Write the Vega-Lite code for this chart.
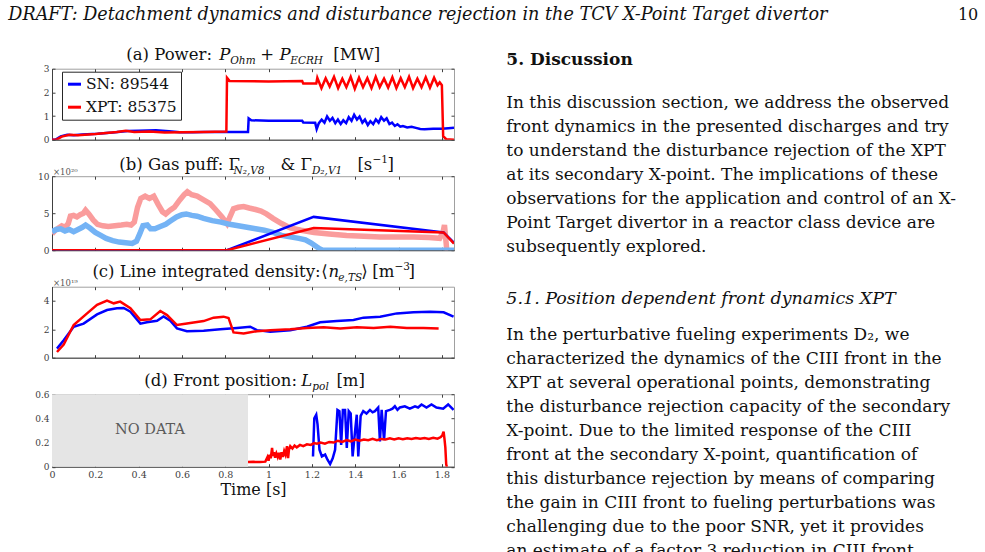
{
"$schema": "https://vega.github.io/schema/vega-lite/v6.json",
"background": "white",
"padding": {"left": 8, "top": 0, "right": 0, "bottom": 0},
"bounds": "flush",
"spacing": 48.7,
"config": {
  "font": "DejaVu Serif",
  "view": {"stroke": "#a0a0a0", "strokeWidth": 1},
  "axis": {"grid": false, "domainColor": "#404040", "tickColor": "#404040", "tickSize": -3, "labelFont": "DejaVu Serif", "labelFontSize": 9, "labelColor": "#404040", "labelPadding": 6, "labelFlush": false, "labelOverlap": false, "titleFont": "DejaVu Serif", "titleFontWeight": "normal", "titleFontSize": 16, "titleColor": "#111111", "titlePadding": 2},
  "text": {"font": "DejaVu Serif"}
},
"datasets": {
  "header": [
    {"pos": "left", "txt": "DRAFT: Detachment dynamics and disturbance rejection in the TCV X-Point Target divertor"},
    {"pos": "right", "txt": "10"}
  ],
  "body": [
    {"kind": "h1", "line": -0.154, "txt": "5.  Discussion"},
    {"kind": "p", "line": 1.65, "txt": "In this discussion section, we address the observed"},
    {"kind": "p", "line": 2.65, "txt": "front dynamics in the presented discharges and try"},
    {"kind": "p", "line": 3.65, "txt": "to understand the disturbance rejection of the XPT"},
    {"kind": "p", "line": 4.65, "txt": "at its secondary X-point.  The implications of these"},
    {"kind": "p", "line": 5.65, "txt": "observations for the application and control of an X-"},
    {"kind": "p", "line": 6.65, "txt": "Point Target divertor in a reactor class device are"},
    {"kind": "p", "line": 7.65, "txt": "subsequently explored."},
    {"kind": "h2", "line": 9.804, "txt": "5.1. Position dependent front dynamics XPT"},
    {"kind": "p", "line": 11.3, "txt": "In the perturbative fueling experiments D₂, we"},
    {"kind": "p", "line": 12.3, "txt": "characterized the dynamics of the CIII front in the"},
    {"kind": "p", "line": 13.3, "txt": "XPT at several operational points, demonstrating"},
    {"kind": "p", "line": 14.3, "txt": "the disturbance rejection capacity of the secondary"},
    {"kind": "p", "line": 15.3, "txt": "X-point.  Due to the limited response of the CIII"},
    {"kind": "p", "line": 16.3, "txt": "front at the secondary X-point, quantification of"},
    {"kind": "p", "line": 17.3, "txt": "this disturbance rejection by means of comparing"},
    {"kind": "p", "line": 18.3, "txt": "the gain in CIII front to fueling perturbations was"},
    {"kind": "p", "line": 19.3, "txt": "challenging due to the poor SNR, yet it provides"},
    {"kind": "p", "line": 20.3, "txt": "an estimate of a factor 3 reduction in CIII front"}
  ],
  "tA": [
    {"t": 0.343, "txt": "(a) Power:", "k": "rm"},
    {"t": 0.772, "txt": "P", "k": "it"},
    {"t": 0.823, "txt": "Ohm", "k": "sub"},
    {"t": 0.962, "txt": "+", "k": "rm"},
    {"t": 1.05, "txt": "P", "k": "it"},
    {"t": 1.1, "txt": "ECRH", "k": "sub"},
    {"t": 1.299, "txt": "[MW]", "k": "rm"}
  ],
  "tB": [
    {"t": 0.311, "txt": "(b) Gas puff: Γ", "k": "rm"},
    {"t": 0.838, "txt": "N₂,V8", "k": "sub"},
    {"t": 1.055, "txt": "& Γ", "k": "rm"},
    {"t": 1.2, "txt": "D₂,V1", "k": "sub"},
    {"t": 1.41, "txt": "[s", "k": "rm"},
    {"t": 1.48, "txt": "−1", "k": "sup"},
    {"t": 1.549, "txt": "]", "k": "rm"}
  ],
  "tC": [
    {"t": 0.1865, "txt": "(c) Line integrated density:", "k": "rm"},
    {"t": 1.243, "txt": "⟨", "k": "rm"},
    {"t": 1.276, "txt": "n", "k": "it"},
    {"t": 1.322, "txt": "e,TS", "k": "sub"},
    {"t": 1.428, "txt": "⟩", "k": "rm"},
    {"t": 1.479, "txt": "[m", "k": "rm"},
    {"t": 1.581, "txt": "−3", "k": "sup"},
    {"t": 1.646, "txt": "]", "k": "rm"}
  ],
  "tD": [
    {"t": 0.426, "txt": "(d) Front position:", "k": "rm"},
    {"t": 1.151, "txt": "L", "k": "it"},
    {"t": 1.202, "txt": "pol", "k": "sub"},
    {"t": 1.313, "txt": "[m]", "k": "rm"}
  ],
  "nodata": [
    {"t0": 0, "t1": 0.905, "v0": 0, "v1": 0.6, "tm": 0.4525, "vm": 0.3, "label": "NO DATA"}
  ],
  "power": [
    {"s":"SN: 89544","t":0,"v":0},{"s":"SN: 89544","t":0.015,"v":0},{"s":"SN: 89544","t":0.04,"v":0.14},{"s":"SN: 89544","t":0.07,"v":0.21},{"s":"SN: 89544","t":0.1,"v":0.19},{"s":"SN: 89544","t":0.14,"v":0.22},{"s":"SN: 89544","t":0.21,"v":0.25},{"s":"SN: 89544","t":0.28,"v":0.3},{"s":"SN: 89544","t":0.35,"v":0.37},{"s":"SN: 89544","t":0.4,"v":0.38},{"s":"SN: 89544","t":0.48,"v":0.4},{"s":"SN: 89544","t":0.54,"v":0.36},{"s":"SN: 89544","t":0.59,"v":0.31},{"s":"SN: 89544","t":0.65,"v":0.31},{"s":"SN: 89544","t":0.7,"v":0.33},{"s":"SN: 89544","t":0.75,"v":0.33},{"s":"SN: 89544","t":0.8,"v":0.33},{"s":"SN: 89544","t":0.905,"v":0.33},{"s":"SN: 89544","t":0.908,"v":0.9},{"s":"SN: 89544","t":0.92,"v":0.82},{"s":"SN: 89544","t":1.0,"v":0.8},{"s":"SN: 89544","t":1.155,"v":0.8},{"s":"SN: 89544","t":1.16,"v":0.73},{"s":"SN: 89544","t":1.215,"v":0.72},{"s":"SN: 89544","t":1.222,"v":0.45},{"s":"SN: 89544","t":1.232,"v":0.7},{"s":"SN: 89544","t":1.245,"v":0.85},{"s":"SN: 89544","t":1.258,"v":0.72},{"s":"SN: 89544","t":1.27,"v":0.98},{"s":"SN: 89544","t":1.283,"v":0.8},{"s":"SN: 89544","t":1.295,"v":0.92},{"s":"SN: 89544","t":1.308,"v":0.7},{"s":"SN: 89544","t":1.32,"v":0.85},{"s":"SN: 89544","t":1.333,"v":0.66},{"s":"SN: 89544","t":1.345,"v":0.82},{"s":"SN: 89544","t":1.358,"v":0.7},{"s":"SN: 89544","t":1.37,"v":0.95},{"s":"SN: 89544","t":1.383,"v":0.8},{"s":"SN: 89544","t":1.395,"v":1.05},{"s":"SN: 89544","t":1.408,"v":0.85},{"s":"SN: 89544","t":1.42,"v":0.98},{"s":"SN: 89544","t":1.433,"v":0.72},{"s":"SN: 89544","t":1.445,"v":0.85},{"s":"SN: 89544","t":1.458,"v":0.62},{"s":"SN: 89544","t":1.47,"v":0.78},{"s":"SN: 89544","t":1.483,"v":0.66},{"s":"SN: 89544","t":1.495,"v":0.86},{"s":"SN: 89544","t":1.508,"v":0.72},{"s":"SN: 89544","t":1.52,"v":0.95},{"s":"SN: 89544","t":1.533,"v":0.8},{"s":"SN: 89544","t":1.545,"v":0.9},{"s":"SN: 89544","t":1.558,"v":0.66},{"s":"SN: 89544","t":1.57,"v":0.72},{"s":"SN: 89544","t":1.583,"v":0.58},{"s":"SN: 89544","t":1.595,"v":0.65},{"s":"SN: 89544","t":1.608,"v":0.55},{"s":"SN: 89544","t":1.62,"v":0.58},{"s":"SN: 89544","t":1.64,"v":0.52},{"s":"SN: 89544","t":1.66,"v":0.55},{"s":"SN: 89544","t":1.68,"v":0.5},{"s":"SN: 89544","t":1.7,"v":0.45},{"s":"SN: 89544","t":1.72,"v":0.44},{"s":"SN: 89544","t":1.76,"v":0.46},{"s":"SN: 89544","t":1.8,"v":0.46},{"s":"SN: 89544","t":1.83,"v":0.48},{"s":"SN: 89544","t":1.856,"v":0.5},
    {"s":"XPT: 85375","t":0,"v":0},{"s":"XPT: 85375","t":0.02,"v":0},{"s":"XPT: 85375","t":0.045,"v":0.13},{"s":"XPT: 85375","t":0.08,"v":0.21},{"s":"XPT: 85375","t":0.12,"v":0.19},{"s":"XPT: 85375","t":0.2,"v":0.24},{"s":"XPT: 85375","t":0.3,"v":0.33},{"s":"XPT: 85375","t":0.34,"v":0.38},{"s":"XPT: 85375","t":0.38,"v":0.33},{"s":"XPT: 85375","t":0.45,"v":0.35},{"s":"XPT: 85375","t":0.52,"v":0.3},{"s":"XPT: 85375","t":0.6,"v":0.32},{"s":"XPT: 85375","t":0.7,"v":0.33},{"s":"XPT: 85375","t":0.805,"v":0.35},{"s":"XPT: 85375","t":0.808,"v":2.62},{"s":"XPT: 85375","t":0.82,"v":2.48},{"s":"XPT: 85375","t":1.0,"v":2.46},{"s":"XPT: 85375","t":1.155,"v":2.48},{"s":"XPT: 85375","t":1.16,"v":2.37},{"s":"XPT: 85375","t":1.22,"v":2.37},
    {"s":"XPT: 85375","t":1.225,"v":2.62},{"s":"XPT: 85375","t":1.244,"v":2.18},{"s":"XPT: 85375","t":1.2635,"v":2.6},{"s":"XPT: 85375","t":1.282,"v":2.25},{"s":"XPT: 85375","t":1.302,"v":2.66},{"s":"XPT: 85375","t":1.321,"v":2.18},{"s":"XPT: 85375","t":1.3405,"v":2.58},{"s":"XPT: 85375","t":1.359,"v":2.22},{"s":"XPT: 85375","t":1.379,"v":2.66},{"s":"XPT: 85375","t":1.398,"v":2.15},{"s":"XPT: 85375","t":1.4175,"v":2.62},{"s":"XPT: 85375","t":1.436,"v":2.22},{"s":"XPT: 85375","t":1.456,"v":2.6},{"s":"XPT: 85375","t":1.475,"v":2.18},{"s":"XPT: 85375","t":1.4945,"v":2.66},{"s":"XPT: 85375","t":1.513,"v":2.22},{"s":"XPT: 85375","t":1.533,"v":2.58},{"s":"XPT: 85375","t":1.552,"v":2.2},{"s":"XPT: 85375","t":1.5715,"v":2.64},{"s":"XPT: 85375","t":1.59,"v":2.18},{"s":"XPT: 85375","t":1.61,"v":2.6},{"s":"XPT: 85375","t":1.629,"v":2.22},{"s":"XPT: 85375","t":1.6485,"v":2.66},{"s":"XPT: 85375","t":1.667,"v":2.18},{"s":"XPT: 85375","t":1.687,"v":2.58},{"s":"XPT: 85375","t":1.706,"v":2.22},{"s":"XPT: 85375","t":1.7255,"v":2.64},{"s":"XPT: 85375","t":1.745,"v":2.2},{"s":"XPT: 85375","t":1.764,"v":2.62},{"s":"XPT: 85375","t":1.78,"v":2.3},{"s":"XPT: 85375","t":1.79,"v":2.42},{"s":"XPT: 85375","t":1.8,"v":2.3},{"s":"XPT: 85375","t":1.806,"v":0.15},{"s":"XPT: 85375","t":1.82,"v":0.02},{"s":"XPT: 85375","t":1.856,"v":0}
  ],
  "gasband": [
    {"s":"XPT D2","t":0,"v":2.2},{"s":"XPT D2","t":0.015,"v":2.7},{"s":"XPT D2","t":0.03,"v":3.0},{"s":"XPT D2","t":0.045,"v":3.3},{"s":"XPT D2","t":0.06,"v":3.1},{"s":"XPT D2","t":0.075,"v":3.6},{"s":"XPT D2","t":0.085,"v":4.6},{"s":"XPT D2","t":0.1,"v":4.7},{"s":"XPT D2","t":0.115,"v":4.5},{"s":"XPT D2","t":0.13,"v":4.8},{"s":"XPT D2","t":0.145,"v":5.0},{"s":"XPT D2","t":0.155,"v":5.4},{"s":"XPT D2","t":0.17,"v":4.9},{"s":"XPT D2","t":0.19,"v":4.1},{"s":"XPT D2","t":0.21,"v":3.5},{"s":"XPT D2","t":0.235,"v":3.3},{"s":"XPT D2","t":0.26,"v":3.2},{"s":"XPT D2","t":0.29,"v":3.3},{"s":"XPT D2","t":0.32,"v":3.4},{"s":"XPT D2","t":0.345,"v":3.5},{"s":"XPT D2","t":0.365,"v":3.4},{"s":"XPT D2","t":0.38,"v":3.8},{"s":"XPT D2","t":0.395,"v":5.8},{"s":"XPT D2","t":0.41,"v":7.0},{"s":"XPT D2","t":0.43,"v":7.3},{"s":"XPT D2","t":0.45,"v":7.0},{"s":"XPT D2","t":0.47,"v":7.3},{"s":"XPT D2","t":0.49,"v":6.2},{"s":"XPT D2","t":0.51,"v":5.2},{"s":"XPT D2","t":0.525,"v":4.9},{"s":"XPT D2","t":0.545,"v":5.4},{"s":"XPT D2","t":0.565,"v":5.8},{"s":"XPT D2","t":0.59,"v":6.8},{"s":"XPT D2","t":0.61,"v":7.5},{"s":"XPT D2","t":0.625,"v":7.9},{"s":"XPT D2","t":0.645,"v":7.5},{"s":"XPT D2","t":0.67,"v":7.3},{"s":"XPT D2","t":0.7,"v":6.8},{"s":"XPT D2","t":0.73,"v":6.3},{"s":"XPT D2","t":0.755,"v":5.5},{"s":"XPT D2","t":0.785,"v":4.5},{"s":"XPT D2","t":0.8,"v":3.9},{"s":"XPT D2","t":0.808,"v":3.6},{"s":"XPT D2","t":0.82,"v":4.4},{"s":"XPT D2","t":0.838,"v":5.6},{"s":"XPT D2","t":0.86,"v":5.8},{"s":"XPT D2","t":0.885,"v":5.9},{"s":"XPT D2","t":0.91,"v":5.7},{"s":"XPT D2","t":0.94,"v":5.5},{"s":"XPT D2","t":0.965,"v":5.3},{"s":"XPT D2","t":0.99,"v":4.9},{"s":"XPT D2","t":1.02,"v":4.3},{"s":"XPT D2","t":1.06,"v":3.6},{"s":"XPT D2","t":1.1,"v":3.0},{"s":"XPT D2","t":1.15,"v":2.7},{"s":"XPT D2","t":1.21,"v":2.4},{"s":"XPT D2","t":1.28,"v":2.2},{"s":"XPT D2","t":1.36,"v":2.0},{"s":"XPT D2","t":1.44,"v":1.9},{"s":"XPT D2","t":1.515,"v":1.8},{"s":"XPT D2","t":1.6,"v":1.8},{"s":"XPT D2","t":1.67,"v":1.8},{"s":"XPT D2","t":1.74,"v":1.7},{"s":"XPT D2","t":1.79,"v":1.6},{"s":"XPT D2","t":1.805,"v":2.4},{"s":"XPT D2","t":1.812,"v":3.4},{"s":"XPT D2","t":1.818,"v":1.5},{"s":"XPT D2","t":1.822,"v":0.2},{"s":"XPT D2","t":1.83,"v":0},
    {"s":"SN D2","t":0,"v":2.5},{"s":"SN D2","t":0.02,"v":2.8},{"s":"SN D2","t":0.04,"v":2.9},{"s":"SN D2","t":0.06,"v":2.6},{"s":"SN D2","t":0.08,"v":2.8},{"s":"SN D2","t":0.1,"v":2.5},{"s":"SN D2","t":0.12,"v":2.8},{"s":"SN D2","t":0.14,"v":3.1},{"s":"SN D2","t":0.155,"v":3.4},{"s":"SN D2","t":0.175,"v":3.0},{"s":"SN D2","t":0.2,"v":2.4},{"s":"SN D2","t":0.225,"v":2.0},{"s":"SN D2","t":0.25,"v":1.6},{"s":"SN D2","t":0.28,"v":1.3},{"s":"SN D2","t":0.31,"v":1.1},{"s":"SN D2","t":0.34,"v":1.0},{"s":"SN D2","t":0.37,"v":0.9},{"s":"SN D2","t":0.39,"v":1.2},{"s":"SN D2","t":0.405,"v":2.2},{"s":"SN D2","t":0.42,"v":3.3},{"s":"SN D2","t":0.44,"v":3.4},{"s":"SN D2","t":0.455,"v":2.9},{"s":"SN D2","t":0.475,"v":2.9},{"s":"SN D2","t":0.5,"v":3.2},{"s":"SN D2","t":0.525,"v":3.5},{"s":"SN D2","t":0.55,"v":4.0},{"s":"SN D2","t":0.575,"v":4.5},{"s":"SN D2","t":0.6,"v":4.8},{"s":"SN D2","t":0.62,"v":4.9},{"s":"SN D2","t":0.645,"v":4.7},{"s":"SN D2","t":0.67,"v":4.6},{"s":"SN D2","t":0.7,"v":4.3},{"s":"SN D2","t":0.74,"v":4.0},{"s":"SN D2","t":0.78,"v":3.8},{"s":"SN D2","t":0.82,"v":3.5},{"s":"SN D2","t":0.86,"v":3.3},{"s":"SN D2","t":0.9,"v":3.1},{"s":"SN D2","t":0.94,"v":2.9},{"s":"SN D2","t":0.98,"v":2.7},{"s":"SN D2","t":1.02,"v":2.4},{"s":"SN D2","t":1.06,"v":2.0},{"s":"SN D2","t":1.1,"v":1.8},{"s":"SN D2","t":1.14,"v":1.6},{"s":"SN D2","t":1.17,"v":1.4},{"s":"SN D2","t":1.195,"v":1.0},{"s":"SN D2","t":1.215,"v":0.6},{"s":"SN D2","t":1.235,"v":0.2},{"s":"SN D2","t":1.25,"v":0},{"s":"SN D2","t":1.856,"v":0}
  ],
  "gasline": [
    {"s":"SN N2","t":0,"v":0},{"s":"SN N2","t":0.808,"v":0},{"s":"SN N2","t":1.208,"v":4.5},{"s":"SN N2","t":1.808,"v":2.4},{"s":"SN N2","t":1.856,"v":1.0},
    {"s":"XPT N2","t":0,"v":0},{"s":"XPT N2","t":0.808,"v":0},{"s":"XPT N2","t":1.208,"v":3.0},{"s":"XPT N2","t":1.808,"v":2.4},{"s":"XPT N2","t":1.856,"v":0.9}
  ],
  "dens": [
    {"s":"SN","t":0.023,"v":0.64},{"s":"SN","t":0.054,"v":1.23},{"s":"SN","t":0.1,"v":2.18},{"s":"SN","t":0.146,"v":2.4},{"s":"SN","t":0.208,"v":3.05},{"s":"SN","t":0.254,"v":3.36},{"s":"SN","t":0.3,"v":3.48},{"s":"SN","t":0.331,"v":3.5},{"s":"SN","t":0.362,"v":3.24},{"s":"SN","t":0.408,"v":2.4},{"s":"SN","t":0.438,"v":2.5},{"s":"SN","t":0.485,"v":2.6},{"s":"SN","t":0.515,"v":2.9},{"s":"SN","t":0.546,"v":2.6},{"s":"SN","t":0.577,"v":2.06},{"s":"SN","t":0.623,"v":1.87},{"s":"SN","t":0.7,"v":1.9},{"s":"SN","t":0.777,"v":2.0},{"s":"SN","t":0.854,"v":2.1},{"s":"SN","t":0.915,"v":2.18},{"s":"SN","t":0.946,"v":1.94},{"s":"SN","t":1.008,"v":1.82},{"s":"SN","t":1.1,"v":1.94},{"s":"SN","t":1.177,"v":2.18},{"s":"SN","t":1.238,"v":2.49},{"s":"SN","t":1.315,"v":2.58},{"s":"SN","t":1.392,"v":2.65},{"s":"SN","t":1.438,"v":2.82},{"s":"SN","t":1.515,"v":2.89},{"s":"SN","t":1.592,"v":3.12},{"s":"SN","t":1.669,"v":3.2},{"s":"SN","t":1.746,"v":3.24},{"s":"SN","t":1.808,"v":3.2},{"s":"SN","t":1.854,"v":2.89},
    {"s":"XPT","t":0.023,"v":0.4},{"s":"XPT","t":0.054,"v":0.92},{"s":"XPT","t":0.1,"v":2.3},{"s":"XPT","t":0.162,"v":3.12},{"s":"XPT","t":0.208,"v":3.72},{"s":"XPT","t":0.254,"v":4.02},{"s":"XPT","t":0.285,"v":3.83},{"s":"XPT","t":0.315,"v":3.95},{"s":"XPT","t":0.362,"v":3.48},{"s":"XPT","t":0.408,"v":2.65},{"s":"XPT","t":0.454,"v":2.7},{"s":"XPT","t":0.5,"v":3.29},{"s":"XPT","t":0.531,"v":3.0},{"s":"XPT","t":0.577,"v":2.3},{"s":"XPT","t":0.623,"v":2.41},{"s":"XPT","t":0.7,"v":2.58},{"s":"XPT","t":0.746,"v":2.82},{"s":"XPT","t":0.792,"v":2.89},{"s":"XPT","t":0.815,"v":2.8},{"s":"XPT","t":0.838,"v":1.78},{"s":"XPT","t":0.885,"v":1.7},{"s":"XPT","t":0.946,"v":1.87},{"s":"XPT","t":1.008,"v":1.94},{"s":"XPT","t":1.1,"v":2.0},{"s":"XPT","t":1.177,"v":2.1},{"s":"XPT","t":1.254,"v":2.15},{"s":"XPT","t":1.331,"v":2.05},{"s":"XPT","t":1.408,"v":2.15},{"s":"XPT","t":1.485,"v":2.1},{"s":"XPT","t":1.562,"v":2.18},{"s":"XPT","t":1.638,"v":2.1},{"s":"XPT","t":1.715,"v":2.1},{"s":"XPT","t":1.785,"v":2.06}
  ],
  "front": [
    {"s":"SN","t":1.205,"v":0.085},{"s":"SN","t":1.211,"v":0.4},{"s":"SN","t":1.22,"v":0.43},{"s":"SN","t":1.226,"v":0.35},{"s":"SN","t":1.235,"v":0.14},{"s":"SN","t":1.246,"v":0.085},{"s":"SN","t":1.261,"v":0.1},{"s":"SN","t":1.272,"v":0.058},{"s":"SN","t":1.284,"v":0.022},{"s":"SN","t":1.296,"v":0.07},{"s":"SN","t":1.307,"v":0.14},{"s":"SN","t":1.318,"v":0.47},{"s":"SN","t":1.327,"v":0.46},{"s":"SN","t":1.335,"v":0.18},{"s":"SN","t":1.343,"v":0.47},{"s":"SN","t":1.353,"v":0.47},{"s":"SN","t":1.361,"v":0.155},{"s":"SN","t":1.37,"v":0.46},{"s":"SN","t":1.379,"v":0.44},{"s":"SN","t":1.388,"v":0.085},{"s":"SN","t":1.399,"v":0.29},{"s":"SN","t":1.407,"v":0.43},{"s":"SN","t":1.414,"v":0.085},{"s":"SN","t":1.425,"v":0.42},{"s":"SN","t":1.437,"v":0.46},{"s":"SN","t":1.452,"v":0.44},{"s":"SN","t":1.468,"v":0.47},{"s":"SN","t":1.48,"v":0.45},{"s":"SN","t":1.491,"v":0.46},{"s":"SN","t":1.506,"v":0.49},{"s":"SN","t":1.514,"v":0.21},{"s":"SN","t":1.522,"v":0.47},{"s":"SN","t":1.533,"v":0.22},{"s":"SN","t":1.542,"v":0.46},{"s":"SN","t":1.56,"v":0.47},{"s":"SN","t":1.572,"v":0.48},{"s":"SN","t":1.583,"v":0.5},{"s":"SN","t":1.595,"v":0.47},{"s":"SN","t":1.606,"v":0.49},{"s":"SN","t":1.629,"v":0.5},{"s":"SN","t":1.652,"v":0.48},{"s":"SN","t":1.676,"v":0.5},{"s":"SN","t":1.69,"v":0.49},{"s":"SN","t":1.706,"v":0.515},{"s":"SN","t":1.729,"v":0.49},{"s":"SN","t":1.752,"v":0.515},{"s":"SN","t":1.775,"v":0.49},{"s":"SN","t":1.806,"v":0.48},{"s":"SN","t":1.829,"v":0.515},{"s":"SN","t":1.854,"v":0.47},
    {"s":"XPT","t":0.905,"v":0.038},{"s":"XPT","t":0.93,"v":0.04},{"s":"XPT","t":0.96,"v":0.038},{"s":"XPT","t":0.985,"v":0.042},{"s":"XPT","t":0.995,"v":0.08},{"s":"XPT","t":1.0,"v":0.05},{"s":"XPT","t":1.005,"v":0.1},{"s":"XPT","t":1.01,"v":0.07},{"s":"XPT","t":1.016,"v":0.155},{"s":"XPT","t":1.02,"v":0.09},{"s":"XPT","t":1.025,"v":0.12},{"s":"XPT","t":1.03,"v":0.075},{"s":"XPT","t":1.036,"v":0.11},{"s":"XPT","t":1.042,"v":0.08},{"s":"XPT","t":1.048,"v":0.115},{"s":"XPT","t":1.054,"v":0.06},{"s":"XPT","t":1.06,"v":0.12},{"s":"XPT","t":1.066,"v":0.08},{"s":"XPT","t":1.072,"v":0.13},{"s":"XPT","t":1.078,"v":0.1},{"s":"XPT","t":1.085,"v":0.17},{"s":"XPT","t":1.09,"v":0.07},{"s":"XPT","t":1.094,"v":0.14},{"s":"XPT","t":1.1,"v":0.17},{"s":"XPT","t":1.11,"v":0.15},{"s":"XPT","t":1.12,"v":0.175},{"s":"XPT","t":1.13,"v":0.16},{"s":"XPT","t":1.145,"v":0.18},{"s":"XPT","t":1.16,"v":0.17},{"s":"XPT","t":1.177,"v":0.185},{"s":"XPT","t":1.195,"v":0.18},{"s":"XPT","t":1.21,"v":0.195},{"s":"XPT","t":1.223,"v":0.19},{"s":"XPT","t":1.24,"v":0.2},{"s":"XPT","t":1.26,"v":0.19},{"s":"XPT","t":1.28,"v":0.205},{"s":"XPT","t":1.3,"v":0.2},{"s":"XPT","t":1.32,"v":0.215},{"s":"XPT","t":1.34,"v":0.205},{"s":"XPT","t":1.36,"v":0.22},{"s":"XPT","t":1.38,"v":0.21},{"s":"XPT","t":1.4,"v":0.225},{"s":"XPT","t":1.42,"v":0.215},{"s":"XPT","t":1.44,"v":0.225},{"s":"XPT","t":1.46,"v":0.22},{"s":"XPT","t":1.48,"v":0.23},{"s":"XPT","t":1.5,"v":0.22},{"s":"XPT","t":1.52,"v":0.23},{"s":"XPT","t":1.54,"v":0.225},{"s":"XPT","t":1.56,"v":0.235},{"s":"XPT","t":1.58,"v":0.225},{"s":"XPT","t":1.6,"v":0.235},{"s":"XPT","t":1.62,"v":0.228},{"s":"XPT","t":1.64,"v":0.236},{"s":"XPT","t":1.66,"v":0.23},{"s":"XPT","t":1.68,"v":0.238},{"s":"XPT","t":1.7,"v":0.232},{"s":"XPT","t":1.72,"v":0.238},{"s":"XPT","t":1.74,"v":0.23},{"s":"XPT","t":1.76,"v":0.24},{"s":"XPT","t":1.78,"v":0.232},{"s":"XPT","t":1.795,"v":0.245},{"s":"XPT","t":1.802,"v":0.26},{"s":"XPT","t":1.808,"v":0.29},{"s":"XPT","t":1.812,"v":0.23},{"s":"XPT","t":1.816,"v":0.16},{"s":"XPT","t":1.82,"v":0.02},{"s":"XPT","t":1.823,"v":0}
  ]
},
"vconcat": [
  {
    "width": 926.3, "height": 20,
    "view": {"stroke": null},
    "data": {"name": "header"},
    "layer": [
      {"transform": [{"filter": "datum.pos == 'left'"}],
       "mark": {"type": "text", "align": "left", "baseline": "alphabetic", "dx": -43.7, "fontStyle": "italic", "fontSize": 17.6, "color": "#111111"},
       "encoding": {"x": {"datum": 0, "type": "quantitative", "scale": {"domain": [0, 1]}, "axis": null},
                    "y": {"datum": 0, "type": "quantitative", "scale": {"domain": [0, 1]}, "axis": null},
                    "text": {"field": "txt"}}},
      {"transform": [{"filter": "datum.pos == 'right'"}],
       "mark": {"type": "text", "align": "right", "baseline": "alphabetic", "fontSize": 16, "color": "#111111"},
       "encoding": {"x": {"datum": 1, "type": "quantitative", "axis": null},
                    "y": {"datum": 0, "type": "quantitative", "axis": null},
                    "text": {"field": "txt"}}}
    ]
  },
  {
    "hconcat": [
      {
        "vconcat": [
          {
            "width": 402, "height": 71,
            "resolve": {"axis": {"x": "independent", "y": "independent"}},
            "layer": [
              {"data": {"name": "power"}, "mark": {"type": "line", "strokeWidth": 2.5, "clip": true},
               "encoding": {
                 "x": {"field": "t", "type": "quantitative", "title": null, "scale": {"domain": [0, 1.856], "nice": false, "zero": false}, "axis": {"values": [0, 0.2, 0.4, 0.6, 0.8, 1, 1.2, 1.4, 1.6, 1.8], "labels": false}},
                 "y": {"field": "v", "type": "quantitative", "title": null, "scale": {"domain": [0, 3], "nice": false}, "axis": {"values": [0, 1, 2, 3]}},
                 "color": {"field": "s", "type": "nominal", "scale": {"domain": ["SN: 89544", "XPT: 85375"], "range": ["#0000ff", "#ff0000"]},
                   "legend": {"title": null, "orient": "none", "legendX": 10, "legendY": 3, "strokeColor": "#262626", "fillColor": "white", "padding": 4, "labelFont": "DejaVu Serif", "labelFontSize": 15.5, "labelColor": "#111111", "symbolType": "stroke", "symbolStrokeWidth": 3, "symbolSize": 170, "rowPadding": 6, "labelOffset": 3}}
               }},
              {"data": {"name": "tA"}, "transform": [{"filter": "datum.k == 'rm'"}], "mark": {"type": "text", "align": "left", "baseline": "alphabetic", "dy": -8.5, "fontSize": 16.5, "color": "#111111"},
               "encoding": {"x": {"field": "t", "type": "quantitative", "title": null, "axis": {"orient": "top", "values": [0, 0.2, 0.4, 0.6, 0.8, 1, 1.2, 1.4, 1.6, 1.8], "labels": false, "domain": false}}, "y": {"datum": 3, "type": "quantitative", "title": null, "axis": {"orient": "right", "values": [0, 1, 2, 3], "labels": false, "domain": false}}, "text": {"field": "txt"}}},
              {"data": {"name": "tA"}, "transform": [{"filter": "datum.k == 'it'"}], "mark": {"type": "text", "align": "left", "baseline": "alphabetic", "dy": -8.5, "fontSize": 16.5, "fontStyle": "italic", "color": "#111111"},
               "encoding": {"x": {"field": "t", "type": "quantitative", "axis": null}, "y": {"datum": 3, "type": "quantitative", "axis": null}, "text": {"field": "txt"}}},
              {"data": {"name": "tA"}, "transform": [{"filter": "datum.k == 'sub'"}], "mark": {"type": "text", "align": "left", "baseline": "alphabetic", "dy": -4.5, "fontSize": 10.5, "fontStyle": "italic", "color": "#111111"},
               "encoding": {"x": {"field": "t", "type": "quantitative", "axis": null}, "y": {"datum": 3, "type": "quantitative", "axis": null}, "text": {"field": "txt"}}}
            ]
          },
          {
            "width": 402, "height": 74,
            "resolve": {"axis": {"x": "independent", "y": "independent"}},
            "layer": [
              {"data": {"name": "gasband"}, "mark": {"type": "line", "strokeWidth": 5.5, "clip": true},
               "encoding": {
                 "x": {"field": "t", "type": "quantitative", "title": null, "scale": {"domain": [0, 1.856], "nice": false, "zero": false}, "axis": {"values": [0, 0.2, 0.4, 0.6, 0.8, 1, 1.2, 1.4, 1.6, 1.8], "labels": false}},
                 "y": {"field": "v", "type": "quantitative", "title": null, "scale": {"domain": [0, 10], "nice": false}, "axis": {"values": [0, 5, 10]}},
                 "color": {"field": "s", "type": "nominal", "scale": {"domain": ["XPT D2", "SN D2", "SN N2", "XPT N2"], "range": ["#fa9c9c", "#74b3f5", "#0000ff", "#ff0000"]}, "legend": null}
               }},
              {"data": {"name": "gasline"}, "mark": {"type": "line", "strokeWidth": 2.5, "clip": true},
               "encoding": {
                 "x": {"field": "t", "type": "quantitative", "axis": null},
                 "y": {"field": "v", "type": "quantitative", "axis": null},
                 "color": {"field": "s", "type": "nominal", "legend": null}
               }},
              {"data": {"values": [{"lab": "×10²⁰"}]}, "mark": {"type": "text", "align": "left", "baseline": "alphabetic", "dx": 1, "dy": -1, "fontSize": 8.5, "color": "#555555"},
               "encoding": {"x": {"datum": 0, "type": "quantitative", "axis": null}, "y": {"datum": 10, "type": "quantitative", "axis": null}, "text": {"field": "lab"}}},
              {"data": {"name": "tB"}, "transform": [{"filter": "datum.k == 'rm'"}], "mark": {"type": "text", "align": "left", "baseline": "alphabetic", "dy": -6.5, "fontSize": 16.5, "color": "#111111"},
               "encoding": {"x": {"field": "t", "type": "quantitative", "title": null, "axis": {"orient": "top", "values": [0, 0.2, 0.4, 0.6, 0.8, 1, 1.2, 1.4, 1.6, 1.8], "labels": false, "domain": false}}, "y": {"datum": 10, "type": "quantitative", "title": null, "axis": {"orient": "right", "values": [0, 5, 10], "labels": false, "domain": false}}, "text": {"field": "txt"}}},
              {"data": {"name": "tB"}, "transform": [{"filter": "datum.k == 'sub'"}], "mark": {"type": "text", "align": "left", "baseline": "alphabetic", "dy": -2.5, "fontSize": 10.5, "fontStyle": "italic", "color": "#111111"},
               "encoding": {"x": {"field": "t", "type": "quantitative", "axis": null}, "y": {"datum": 10, "type": "quantitative", "axis": null}, "text": {"field": "txt"}}},
              {"data": {"name": "tB"}, "transform": [{"filter": "datum.k == 'sup'"}], "mark": {"type": "text", "align": "left", "baseline": "alphabetic", "dy": -13, "fontSize": 10.5, "color": "#111111"},
               "encoding": {"x": {"field": "t", "type": "quantitative", "axis": null}, "y": {"datum": 10, "type": "quantitative", "axis": null}, "text": {"field": "txt"}}}
            ]
          },
          {
            "width": 402, "height": 71,
            "resolve": {"axis": {"x": "independent", "y": "independent"}},
            "layer": [
              {"data": {"name": "dens"}, "mark": {"type": "line", "strokeWidth": 2.5, "clip": true},
               "encoding": {
                 "x": {"field": "t", "type": "quantitative", "title": null, "scale": {"domain": [0, 1.856], "nice": false, "zero": false}, "axis": {"values": [0, 0.2, 0.4, 0.6, 0.8, 1, 1.2, 1.4, 1.6, 1.8], "labels": false}},
                 "y": {"field": "v", "type": "quantitative", "title": null, "scale": {"domain": [0, 5], "nice": false}, "axis": {"values": [0, 2, 4]}},
                 "color": {"field": "s", "type": "nominal", "scale": {"domain": ["SN", "XPT"], "range": ["#0000ff", "#ff0000"]}, "legend": null}
               }},
              {"data": {"values": [{"lab": "×10¹⁹"}]}, "mark": {"type": "text", "align": "left", "baseline": "alphabetic", "dx": 1, "dy": -1, "fontSize": 8.5, "color": "#555555"},
               "encoding": {"x": {"datum": 0, "type": "quantitative", "axis": null}, "y": {"datum": 5, "type": "quantitative", "axis": null}, "text": {"field": "lab"}}},
              {"data": {"name": "tC"}, "transform": [{"filter": "datum.k == 'rm'"}], "mark": {"type": "text", "align": "left", "baseline": "alphabetic", "dy": -10, "fontSize": 16.5, "color": "#111111"},
               "encoding": {"x": {"field": "t", "type": "quantitative", "title": null, "axis": {"orient": "top", "values": [0, 0.2, 0.4, 0.6, 0.8, 1, 1.2, 1.4, 1.6, 1.8], "labels": false, "domain": false}}, "y": {"datum": 5, "type": "quantitative", "title": null, "axis": {"orient": "right", "values": [0, 2, 4], "labels": false, "domain": false}}, "text": {"field": "txt"}}},
              {"data": {"name": "tC"}, "transform": [{"filter": "datum.k == 'it'"}], "mark": {"type": "text", "align": "left", "baseline": "alphabetic", "dy": -10, "fontSize": 16.5, "fontStyle": "italic", "color": "#111111"},
               "encoding": {"x": {"field": "t", "type": "quantitative", "axis": null}, "y": {"datum": 5, "type": "quantitative", "axis": null}, "text": {"field": "txt"}}},
              {"data": {"name": "tC"}, "transform": [{"filter": "datum.k == 'sub'"}], "mark": {"type": "text", "align": "left", "baseline": "alphabetic", "dy": -6, "fontSize": 10.5, "fontStyle": "italic", "color": "#111111"},
               "encoding": {"x": {"field": "t", "type": "quantitative", "axis": null}, "y": {"datum": 5, "type": "quantitative", "axis": null}, "text": {"field": "txt"}}},
              {"data": {"name": "tC"}, "transform": [{"filter": "datum.k == 'sup'"}], "mark": {"type": "text", "align": "left", "baseline": "alphabetic", "dy": -16.5, "fontSize": 10.5, "color": "#111111"},
               "encoding": {"x": {"field": "t", "type": "quantitative", "axis": null}, "y": {"datum": 5, "type": "quantitative", "axis": null}, "text": {"field": "txt"}}}
            ]
          },
          {
            "width": 402, "height": 72.5,
            "resolve": {"axis": {"x": "independent", "y": "independent"}},
            "layer": [
              {"data": {"name": "nodata"}, "mark": {"type": "rect", "color": "#e5e5e5"},
               "encoding": {
                 "x": {"field": "t0", "type": "quantitative", "title": "Time [s]", "scale": {"domain": [0, 1.856], "nice": false, "zero": false}, "axis": {"values": [0, 0.2, 0.4, 0.6, 0.8, 1, 1.2, 1.4, 1.6, 1.8], "format": "~g", "labelFontSize": 9.5}},
                 "x2": {"field": "t1"},
                 "y": {"field": "v0", "type": "quantitative", "title": null, "scale": {"domain": [0, 0.6], "nice": false}, "axis": {"values": [0, 0.2, 0.4, 0.6], "format": "~g"}},
                 "y2": {"field": "v1"}
               }},
              {"data": {"name": "nodata"}, "mark": {"type": "text", "align": "center", "baseline": "middle", "fontSize": 14.5, "color": "#5a5a5a"},
               "encoding": {"x": {"field": "tm", "type": "quantitative", "axis": null}, "y": {"field": "vm", "type": "quantitative", "axis": null}, "text": {"field": "label"}}},
              {"data": {"name": "front"}, "mark": {"type": "line", "strokeWidth": 2.5, "clip": true},
               "encoding": {
                 "x": {"field": "t", "type": "quantitative", "axis": null},
                 "y": {"field": "v", "type": "quantitative", "axis": null},
                 "color": {"field": "s", "type": "nominal", "scale": {"domain": ["SN", "XPT"], "range": ["#0000ff", "#ff0000"]}, "legend": null}
               }},
              {"data": {"name": "tD"}, "transform": [{"filter": "datum.k == 'rm'"}], "mark": {"type": "text", "align": "left", "baseline": "alphabetic", "dy": -8.5, "fontSize": 16.5, "color": "#111111"},
               "encoding": {"x": {"field": "t", "type": "quantitative", "title": null, "axis": {"orient": "top", "values": [0, 0.2, 0.4, 0.6, 0.8, 1, 1.2, 1.4, 1.6, 1.8], "labels": false, "domain": false}}, "y": {"datum": 0.6, "type": "quantitative", "title": null, "axis": {"orient": "right", "values": [0, 0.2, 0.4, 0.6], "labels": false, "domain": false}}, "text": {"field": "txt"}}},
              {"data": {"name": "tD"}, "transform": [{"filter": "datum.k == 'it'"}], "mark": {"type": "text", "align": "left", "baseline": "alphabetic", "dy": -8.5, "fontSize": 16.5, "fontStyle": "italic", "color": "#111111"},
               "encoding": {"x": {"field": "t", "type": "quantitative", "axis": null}, "y": {"datum": 0.6, "type": "quantitative", "axis": null}, "text": {"field": "txt"}}},
              {"data": {"name": "tD"}, "transform": [{"filter": "datum.k == 'sub'"}], "mark": {"type": "text", "align": "left", "baseline": "alphabetic", "dy": -4.5, "fontSize": 10.5, "fontStyle": "italic", "color": "#111111"},
               "encoding": {"x": {"field": "t", "type": "quantitative", "axis": null}, "y": {"datum": 0.6, "type": "quantitative", "axis": null}, "text": {"field": "txt"}}}
            ]
          }
        ],
        "spacing": 36.5,
        "bounds": "flush",
        "resolve": {"scale": {"color": "independent"}, "legend": {"color": "independent"}}
      },
      {
        "width": 470, "height": 483.3,
        "view": {"stroke": null},
        "data": {"name": "body"},
        "encoding": {
          "x": {"datum": 0, "type": "quantitative", "scale": {"domain": [0, 1]}, "axis": null},
          "y": {"field": "line", "type": "quantitative", "scale": {"domain": [0, 20.1375], "nice": false, "zero": false, "reverse": true}, "axis": null},
          "text": {"field": "txt"}
        },
        "layer": [
          {"transform": [{"filter": "datum.kind == 'h1'"}], "mark": {"type": "text", "align": "left", "baseline": "alphabetic", "fontSize": 17, "fontWeight": "bold", "color": "#111111"}},
          {"transform": [{"filter": "datum.kind == 'h2'"}], "mark": {"type": "text", "align": "left", "baseline": "alphabetic", "fontSize": 17.5, "fontStyle": "italic", "color": "#111111"}},
          {"transform": [{"filter": "datum.kind == 'p'"}], "mark": {"type": "text", "align": "left", "baseline": "alphabetic", "fontSize": 17, "color": "#111111", "clip": true}}
        ]
      }
    ],
    "spacing": 51.3
  }
]
}
